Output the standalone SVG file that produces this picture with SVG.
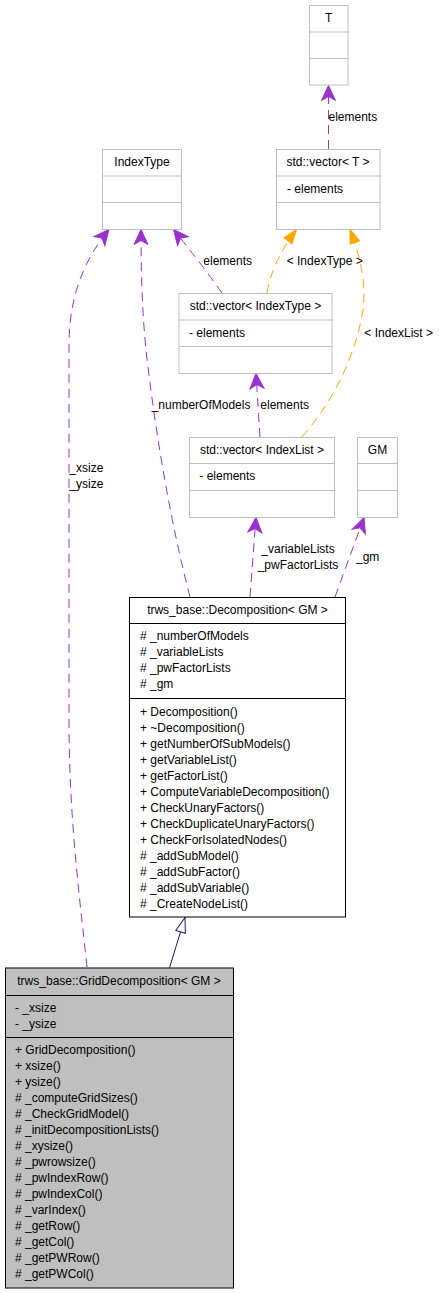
<svg xmlns="http://www.w3.org/2000/svg" width="439" height="1293" viewBox="0 0 439 1293">
<style>
text { font-family: "Liberation Sans", Arial, sans-serif; font-size: 12px; fill: #000; }
.mid { text-anchor: middle; }
.gbox { fill: #fff; stroke: #bfbfbf; stroke-width: 1; }
.bbox { fill: #fff; stroke: #000; stroke-width: 1; }
.grid { fill: #bfbfbf; stroke: #000; stroke-width: 1; }
.gsep { stroke: #bfbfbf; stroke-width: 1; }
.bsep { stroke: #000; stroke-width: 1; }
.use { fill: none; stroke: #9a32cd; stroke-width: 1; stroke-dasharray: 9,6; marker-end: url(#vee); }
.tpl { fill: none; stroke: #ffa500; stroke-width: 1; stroke-dasharray: 9,6; marker-end: url(#tri); }
.inh { fill: none; stroke: #191970; stroke-width: 1; marker-end: url(#open); }
</style>
<defs>
<marker id="vee" markerUnits="userSpaceOnUse" orient="auto" refX="0" refY="0" markerWidth="20" markerHeight="20" overflow="visible">
<path d="M0,0 L-15,-7 L-11,0 L-15,7 Z" fill="#9a32cd" stroke="#9a32cd" stroke-width="1"/>
</marker>
<marker id="tri" markerUnits="userSpaceOnUse" orient="auto" refX="0" refY="0" markerWidth="20" markerHeight="20" overflow="visible">
<path d="M0,0 L-14,-5 L-14,5 Z" fill="#ffa500" stroke="#ffa500" stroke-width="1"/>
</marker>
<marker id="open" markerUnits="userSpaceOnUse" orient="auto" refX="0" refY="0" markerWidth="20" markerHeight="20" overflow="visible">
<path d="M0,0 L-15,-5 L-15,5 Z" fill="#fff" stroke="#191970" stroke-width="1"/>
</marker>
</defs>

<g id="connectors">
<path class="use" d="M328.5,149 L328.5,85.5"/>
<text x="328.5" y="120.5">elements</text>
<path class="use" d="M222,293 Q200,262 173.5,229.5"/>
<text x="203.3" y="264.5">elements</text>
<path class="tpl" d="M267,293 Q272,262 296.5,229.5"/>
<text x="286.7" y="264.5">&lt; IndexType &gt;</text>
<path class="tpl" d="M302,437 C330,405 355,360 363,310 C366,285 362,262 350,229.5"/>
<text x="364.3" y="336.5">&lt; IndexList &gt;</text>
<path class="use" d="M260,437 L256,373.5"/>
<text x="260.3" y="408.5">elements</text>
<path class="use" d="M190,597 C170,520 155,430 146,350 C142,310 141,270 141,229.5"/>
<text x="151.7" y="408.5">_numberOfModels</text>
<path class="use" d="M87,967 C80,900 69,820 69,720 L69,345 C69,300 82,262 109,229.5"/>
<text x="69.3" y="472">_xsize</text>
<text x="69.3" y="488">_ysize</text>
<path class="use" d="M250,597 L256,517.5"/>
<text class="mid" x="298" y="552.5">_variableLists</text>
<text class="mid" x="298" y="568.5">_pwFactorLists</text>
<path class="use" d="M335,597 L364,517.5"/>
<text x="356" y="561">_gm</text>
<path class="inh" d="M169.5,967.7 L185,917.5"/>
</g>

<g id="node-T">
<rect class="gbox" x="309.5" y="5.5" width="38.5" height="79.5"/>
<line class="gsep" x1="309.5" y1="32" x2="348" y2="32"/>
<line class="gsep" x1="309.5" y1="58.5" x2="348" y2="58.5"/>
<text class="mid" x="328.7" y="21.5">T</text>
</g>

<g id="node-IndexType">
<rect class="gbox" x="102.5" y="149.5" width="79" height="80"/>
<line class="gsep" x1="102.5" y1="176" x2="181.5" y2="176"/>
<line class="gsep" x1="102.5" y1="202.5" x2="181.5" y2="202.5"/>
<text class="mid" x="142" y="165.5">IndexType</text>
</g>

<g id="node-vectorT">
<rect class="gbox" x="276.5" y="149.5" width="103.5" height="80"/>
<line class="gsep" x1="276.5" y1="176" x2="380" y2="176"/>
<line class="gsep" x1="276.5" y1="202.5" x2="380" y2="202.5"/>
<text class="mid" x="328" y="165.5">std::vector&lt; T &gt;</text>
<text x="287" y="192.5">- elements</text>
</g>

<g id="node-vectorIndexType">
<rect class="gbox" x="179" y="293.5" width="153" height="80"/>
<line class="gsep" x1="179" y1="320" x2="332" y2="320"/>
<line class="gsep" x1="179" y1="346.5" x2="332" y2="346.5"/>
<text class="mid" x="255.5" y="309.5">std::vector&lt; IndexType &gt;</text>
<text x="189" y="336.5">- elements</text>
</g>

<g id="node-vectorIndexList">
<rect class="gbox" x="189.5" y="437.5" width="145" height="80"/>
<line class="gsep" x1="189.5" y1="463.5" x2="334.5" y2="463.5"/>
<line class="gsep" x1="189.5" y1="490.5" x2="334.5" y2="490.5"/>
<text class="mid" x="262" y="453.5">std::vector&lt; IndexList &gt;</text>
<text x="199.3" y="480">- elements</text>
</g>

<g id="node-GM">
<rect class="gbox" x="357.5" y="437.5" width="40" height="80"/>
<line class="gsep" x1="357.5" y1="463.5" x2="397.5" y2="463.5"/>
<line class="gsep" x1="357.5" y1="490.5" x2="397.5" y2="490.5"/>
<text class="mid" x="377.5" y="453.5">GM</text>
</g>

<g id="node-Decomposition">
<rect class="bbox" x="129.5" y="597.5" width="216" height="319.5"/>
<line class="bsep" x1="129.5" y1="623.5" x2="345.5" y2="623.5"/>
<line class="bsep" x1="129.5" y1="698.5" x2="345.5" y2="698.5"/>
<text class="mid" x="237.5" y="613.5">trws_base::Decomposition&lt; GM &gt;</text>
<text x="140" y="640"># _numberOfModels</text>
<text x="140" y="656"># _variableLists</text>
<text x="140" y="672"># _pwFactorLists</text>
<text x="140" y="688"># _gm</text>
<text x="140" y="715.5">+ Decomposition()</text>
<text x="140" y="731.5">+ ~Decomposition()</text>
<text x="140" y="747.5">+ getNumberOfSubModels()</text>
<text x="140" y="763.5">+ getVariableList()</text>
<text x="140" y="779.5">+ getFactorList()</text>
<text x="140" y="795.5">+ ComputeVariableDecomposition()</text>
<text x="140" y="811.5">+ CheckUnaryFactors()</text>
<text x="140" y="827.5">+ CheckDuplicateUnaryFactors()</text>
<text x="140" y="843.5">+ CheckForIsolatedNodes()</text>
<text x="140" y="859.5"># _addSubModel()</text>
<text x="140" y="875.5"># _addSubFactor()</text>
<text x="140" y="891.5"># _addSubVariable()</text>
<text x="140" y="907.5"># _CreateNodeList()</text>
</g>

<g id="node-GridDecomposition">
<rect class="grid" x="5.5" y="968" width="228" height="320"/>
<line class="bsep" x1="5.5" y1="995.5" x2="233.5" y2="995.5"/>
<line class="bsep" x1="5.5" y1="1037.5" x2="233.5" y2="1037.5"/>
<text class="mid" x="119" y="984.5">trws_base::GridDecomposition&lt; GM &gt;</text>
<text x="15" y="1011.5">- _xsize</text>
<text x="15" y="1027.5">- _ysize</text>
<text x="15" y="1053.5">+ GridDecomposition()</text>
<text x="15" y="1069.5">+ xsize()</text>
<text x="15" y="1085.5">+ ysize()</text>
<text x="15" y="1101.5"># _computeGridSizes()</text>
<text x="15" y="1117.5"># _CheckGridModel()</text>
<text x="15" y="1133.5"># _initDecompositionLists()</text>
<text x="15" y="1149.5"># _xysize()</text>
<text x="15" y="1165.5"># _pwrowsize()</text>
<text x="15" y="1181.5"># _pwIndexRow()</text>
<text x="15" y="1197.5"># _pwIndexCol()</text>
<text x="15" y="1213.5"># _varIndex()</text>
<text x="15" y="1229.5"># _getRow()</text>
<text x="15" y="1245.5"># _getCol()</text>
<text x="15" y="1261.5"># _getPWRow()</text>
<text x="15" y="1277.5"># _getPWCol()</text>
</g>
</svg>
